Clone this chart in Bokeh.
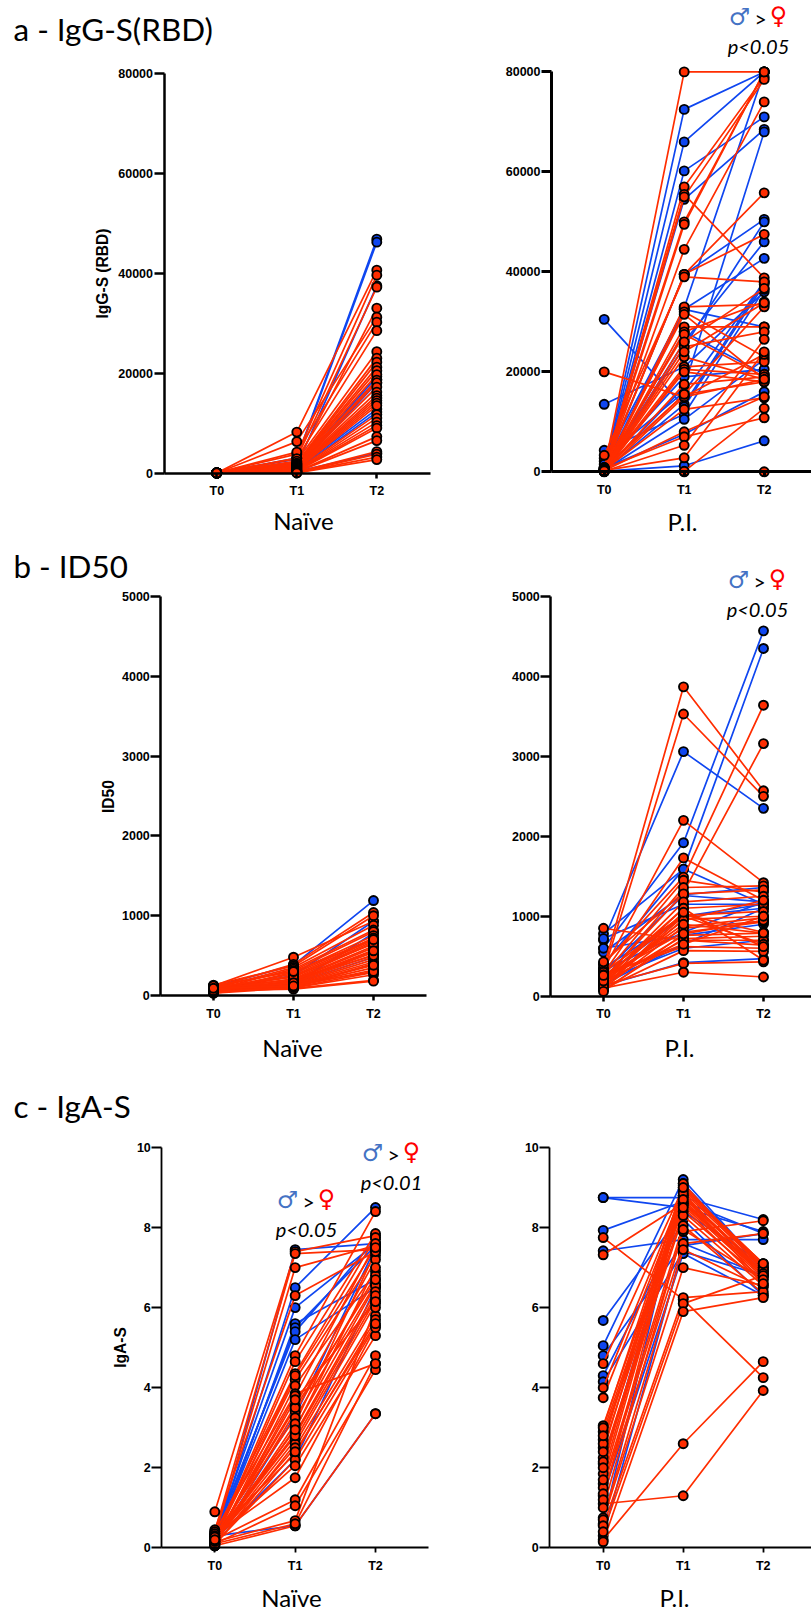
from bokeh.plotting import figure
from bokeh.layouts import column, row
from bokeh.models import Range1d, FixedTicker, Label, BasicTickFormatter
from bokeh.embed import file_html
from bokeh.resources import INLINE
import math

times = ["T0", "T1", "T2"]

# ---- a - IgG-S(RBD), Naive
a_n_m_t0 = [20, 40, 10, 30, 60, 20, 50, 10, 30]
a_n_m_t1 = [3000, 2800, 1500, 1200, 1000, 900, 800, 600, 300]
a_n_m_t2 = [46800, 46200, 37500, 19300, 18700, 18000, 12800, 12200, 4000]
a_n_f_t0 = [20, 50, 10, 80, 30, 60, 40, 20, 10, 70, 30, 50, 90, 20, 40, 10, 60, 30, 80, 20, 50, 40, 10, 30, 70, 20, 60, 40, 10, 50, 30, 20, 40]
a_n_f_t1 = [8200, 3800, 3000, 2200, 6300, 4200, 2900, 2400, 2000, 1900, 1800, 1700, 1600, 1500, 1400, 1300, 1200, 1100, 1000, 900, 800, 700, 600, 500, 450, 400, 350, 300, 250, 200, 150, 100, 50]
a_n_f_t2 = [40600, 39600, 37200, 33000, 31200, 30200, 28500, 24300, 23000, 22200, 21200, 20500, 19700, 18600, 18100, 17200, 16200, 15500, 15000, 14500, 14000, 13500, 11700, 11000, 10200, 9500, 9000, 7300, 6500, 4300, 3800, 3200, 2700]

# ---- a - IgG-S(RBD), P.I.
a_p_m_t0 = [300, 200, 150, 400, 100, 250, 500, 1000, 2100, 800, 600, 300, 30500, 13500, 4300, 350, 700, 150, 2700, 1500, 100]
a_p_m_t1 = [72500, 66000, 60200, 54500, 32800, 17000, 39500, 32500, 32500, 25000, 26000, 13500, 13000, 21000, 11500, 10500, 7500, 1200, 16000, 19000, 28000]
a_p_m_t2 = [80000, 80000, 71000, 68500, 80000, 68000, 50500, 42700, 29000, 50000, 46000, 38000, 37500, 36000, 36500, 22500, 16000, 6200, 38000, 20500, 19500]
a_p_f_t0 = [500, 300, 600, 200, 800, 100, 400, 700, 300, 3300, 200, 100, 900, 400, 300, 600, 100, 200, 500, 100, 300, 200, 800, 100, 20000, 400, 200, 600, 100, 300, 0, 100, 500, 300, 200]
a_p_f_t1 = [80000, 57000, 55500, 55000, 50000, 49500, 44500, 39500, 39500, 39000, 33000, 32000, 31500, 29000, 28000, 27500, 25000, 23000, 21000, 20500, 20000, 17500, 15500, 15000, 15000, 12500, 8000, 7000, 5300, 2800, 0, 100, 15500, 26000, 24000]
a_p_f_t2 = [80000, 79000, 38800, 78500, 80000, 80000, 74000, 55800, 47500, 38000, 33500, 23000, 18500, 29000, 34000, 19000, 28000, 18500, 22000, 19500, 18000, 19000, 18000, 23500, 18500, 14800, 15000, 10800, 26500, 24000, 0, 12700, 33000, 36700, 33800]

# ---- b - ID50, Naive
b_n_m_t0 = [110, 80, 60, 90]
b_n_m_t1 = [380, 250, 140, 150]
b_n_m_t2 = [1190, 930, 780, 480]
b_n_f_t0 = [120, 100, 130, 90, 70, 110, 60, 80, 50, 100, 70, 90, 40, 60, 80, 50, 110, 30, 70, 60, 40, 50, 90, 30, 70, 60, 40, 50, 80, 100, 120, 60, 90]
b_n_f_t1 = [480, 390, 370, 350, 330, 310, 290, 270, 250, 230, 210, 200, 190, 180, 170, 160, 150, 140, 130, 120, 115, 110, 100, 95, 90, 80, 130, 100, 200, 240, 300, 160, 120]
b_n_f_t2 = [930, 1040, 1000, 880, 820, 800, 750, 720, 700, 680, 660, 620, 600, 570, 540, 510, 480, 450, 420, 390, 350, 320, 290, 260, 190, 180, 300, 400, 500, 650, 700, 560, 380]

# ---- b - ID50, P.I.
b_p_m_t0 = [700, 600, 400, 780, 550, 300, 720, 350, 250, 150, 200, 130, 600, 320]
b_p_m_t1 = [3060, 1920, 1590, 1590, 1270, 1260, 1150, 1000, 1000, 650, 600, 420, 760, 800]
b_p_m_t2 = [2350, 4570, 4350, 1150, 1360, 1180, 1150, 1150, 1100, 1100, 700, 470, 900, 1180]
b_p_f_t0 = [350, 300, 330, 280, 400, 430, 260, 850, 200, 220, 180, 160, 250, 120, 100, 240, 300, 150, 80, 180, 130, 270, 90, 140, 100, 210, 170, 230, 110, 190, 60, 260]
b_p_f_t1 = [3870, 3530, 2200, 1730, 1490, 1300, 1450, 700, 1360, 1280, 1180, 1100, 1010, 960, 870, 800, 1020, 760, 720, 700, 1000, 620, 570, 410, 300, 1100, 950, 850, 1050, 900, 780, 650]
b_p_f_t2 = [2570, 2500, 1420, 1200, 3640, 3160, 1300, 640, 1380, 1330, 1250, 1150, 1060, 1000, 980, 930, 800, 790, 750, 700, 650, 600, 560, 430, 240, 450, 1200, 940, 620, 790, 950, 1000]

# ---- c - IgA-S, Naive
c_n_m_t0 = [0.2, 0.15, 0.3, 0.1, 0.25, 0.35, 0.18, 0.12, 0.3, 0.2]
c_n_m_t1 = [6.5, 7.45, 6.0, 5.6, 5.5, 5.4, 5.2, 3.3, 0.55, 2.2]
c_n_m_t2 = [8.5, 7.6, 7.6, 6.7, 7.55, 7.7, 6.5, 7.5, 3.35, 6.5]
c_n_f_t0 = [0.9, 0.4, 0.3, 0.45, 0.2, 0.15, 0.35, 0.25, 0.1, 0.4, 0.15, 0.2, 0.05, 0.3, 0.1, 0.25, 0.15, 0.05, 0.2, 0.35, 0.1, 0.25, 0.3, 0.2, 0.1, 0.15, 0.05, 0.1, 0.18, 0.12, 0.22, 0.08, 0.27, 0.16, 0.2]
c_n_f_t1 = [7.4, 7.35, 7.0, 6.3, 4.8, 4.65, 4.35, 4.2, 4.05, 3.85, 3.8, 3.55, 3.4, 3.25, 3.0, 2.85, 2.7, 2.6, 2.5, 2.35, 2.2, 2.05, 1.75, 1.2, 1.05, 0.68, 0.55, 0.6, 3.5, 3.1, 2.8, 2.4, 2.95, 3.7, 4.3]
c_n_f_t2 = [7.8, 7.45, 7.55, 7.4, 8.4, 7.85, 7.75, 7.3, 6.9, 4.6, 7.6, 7.2, 6.8, 6.6, 6.55, 6.4, 6.2, 6.1, 5.8, 5.7, 5.55, 5.3, 5.5, 4.8, 4.45, 6.0, 3.35, 4.6, 6.7, 7.4, 6.3, 5.6, 7.0, 6.15, 7.5]

# ---- c - IgA-S, P.I.
c_p_m_t0 = [8.75, 8.75, 7.93, 7.42, 5.68, 5.05, 4.8, 4.3, 4.15, 1.3, 0.3, 0.6, 2.1]
c_p_m_t1 = [8.75, 8.5, 8.65, 7.7, 8.4, 9.2, 7.6, 8.2, 7.4, 7.35, 7.55, 9.1, 8.8]
c_p_m_t2 = [8.2, 7.9, 7.85, 7.7, 7.1, 7.0, 6.8, 6.3, 6.8, 6.3, 7.85, 7.0, 6.9]
c_p_f_t0 = [7.75, 7.32, 4.6, 4.0, 3.75, 3.05, 2.9, 2.7, 2.5, 2.25, 2.15, 1.85, 1.6, 1.5, 1.35, 1.1, 0.75, 0.7, 0.55, 0.2, 0.4, 0.15, 2.0, 3.0, 2.6, 1.2, 1.7, 2.4, 1.0, 2.8]
c_p_f_t1 = [6.2, 8.6, 9.0, 8.9, 8.8, 8.75, 8.65, 8.6, 8.55, 8.4, 8.3, 8.8, 8.05, 7.9, 7.6, 1.3, 7.45, 7.0, 6.25, 2.6, 6.1, 5.9, 8.95, 9.05, 9.1, 8.85, 8.7, 9.0, 7.95, 8.5]
c_p_f_t2 = [4.25, 6.9, 7.1, 7.0, 6.95, 6.9, 6.85, 6.8, 6.75, 6.7, 6.55, 6.6, 6.35, 8.17, 7.85, 3.93, 6.5, 6.55, 6.4, 4.65, 6.8, 6.25, 7.05, 7.0, 6.95, 6.85, 6.8, 7.1, 6.7, 6.6]

BLUE = "#0F46F0"
RED = "#FF2D00"
MALE = "#4472C4"
FEMALE = "#FF0000"
TEXT_FONT = "Lato"
AXIS_FONT = "Liberation Sans"


def panel(fx, fy, fw, fh, axis_x, t0x, t2x, xend, ytop, y0, ymax, yticks, axw,
          male, female, ylabel=None, ylabel_pos=None, xname="", xname_pos=None,
          title=None, title_pos=None, marks=()):
    px2x = lambda px: (px - t0x) / (t2x - t0x) * 2
    px2y = lambda py: (y0 - py) / (y0 - ytop) * ymax
    L, T, R, B = fx, fy, fx + fw, fy + fh
    p = figure(width=fw, height=fh, output_backend="svg", toolbar_location=None,
               x_range=Range1d(px2x(L), px2x(R)), y_range=Range1d(px2y(B), px2y(T)),
               min_border_left=0, min_border_right=0, min_border_top=0, min_border_bottom=0)
    p.outline_line_color = None
    p.grid.visible = False
    for ax in (p.xaxis[0], p.yaxis[0]):
        ax.axis_line_color = "black"
        ax.major_tick_line_color = "black"
        ax.minor_tick_line_color = None
        ax.major_tick_in = 0
        ax.major_label_text_font = AXIS_FONT
        ax.major_label_text_font_style = "bold"
        ax.major_label_text_font_size = "12.5px"
        ax.major_label_text_color = "black"
        ax.axis_line_width = axw
        ax.major_tick_line_width = axw
    xa, ya = p.xaxis[0], p.yaxis[0]
    xa.ticker = FixedTicker(ticks=[0, 1, 2])
    xa.major_label_overrides = {i: t for i, t in enumerate(times)}
    xa.major_tick_out = 5
    xa.major_label_standoff = 6
    xa.fixed_location = 0
    xa.bounds = (px2x(axis_x), px2x(xend))
    ya.ticker = FixedTicker(ticks=yticks)
    ya.formatter = BasicTickFormatter(use_scientific=False)
    ya.major_tick_out = 10
    ya.major_label_standoff = 1
    ya.fixed_location = px2x(axis_x)
    ya.bounds = (0, ymax)

    for (t0, t1, t2), col in ((male, BLUE), (female, RED)):
        xs = [[0, 1, 2] for _ in t0]
        ys = [[a, b, c] for a, b, c in zip(t0, t1, t2)]
        p.multi_line(xs, ys, line_color=col, line_width=1.7)
        sx = [0] * len(t0) + [1] * len(t1) + [2] * len(t2)
        sy = list(t0) + list(t1) + list(t2)
        p.scatter(sx, sy, size=9, fill_color=col, line_color="black", line_width=1.9)

    def txt(s, px, py, size, font=TEXT_FONT, style="normal", color="black", align="center", angle=0):
        p.add_layout(Label(x=px2x(px), y=px2y(py),
                           text=s, text_font=font, text_font_style=style,
                           text_font_size=f"{size}px", text_color=color, text_align=align,
                           text_baseline="middle", angle=angle))

    if ylabel:
        txt(ylabel, ylabel_pos[0], ylabel_pos[1], 15.6, font=AXIS_FONT, style="bold", angle=math.pi / 2)
    txt(xname, xname_pos[0], xname_pos[1], 24)
    if title:
        txt(title, title_pos[0], title_pos[1], 31.4, align="left")
    for (cx, cy, ptext) in marks:
        txt("\u2642", cx - 19, cy, 24, font="DejaVu Sans", style="bold", color=MALE)
        txt(">", cx + 2, cy + 2, 21)
        txt("\u2640", cx + 20, cy - 1, 24, font="DejaVu Sans", style="bold", color=FEMALE)
        txt(ptext, cx, cy + 29, 20, style="italic")
    return p


ticks_a = [0, 20000, 40000, 60000, 80000]
ticks_b = [0, 1000, 2000, 3000, 4000, 5000]
ticks_c = [0, 2, 4, 6, 8, 10]

a1 = panel(0, 0, 440, 540, 163.5, 216.3, 376.3, 430, 72.7, 472.6, 80000, ticks_a, 2.5,
           (a_n_m_t0, a_n_m_t1, a_n_m_t2), (a_n_f_t0, a_n_f_t1, a_n_f_t2),
           "IgG-S (RBD)", (102, 273), "Na\u00efve", (303, 520), "a - IgG-S(RBD)", (13, 28))
a2 = panel(440, 0, 371, 540, 551, 603.7, 763.7, 811, 71.4, 471.3, 80000, ticks_a, 3,
           (a_p_m_t0, a_p_m_t1, a_p_m_t2), (a_p_f_t0, a_p_f_t1, a_p_f_t2),
           None, None, "P.I.", (682, 521), marks=[(758, 16, "p<0.05")])
b1 = panel(0, 540, 440, 545, 160.3, 213, 373, 426, 596, 995, 5000, ticks_b, 2.5,
           (b_n_m_t0, b_n_m_t1, b_n_m_t2), (b_n_f_t0, b_n_f_t1, b_n_f_t2),
           "ID50", (108, 796), "Na\u00efve", (292, 1047), "b - ID50", (13, 565))
b2 = panel(440, 540, 371, 545, 550.3, 603, 763, 811, 596, 995.7, 5000, ticks_b, 2.5,
           (b_p_m_t0, b_p_m_t1, b_p_m_t2), (b_p_f_t0, b_p_f_t1, b_p_f_t2),
           None, None, "P.I.", (679, 1047), marks=[(757, 579, "p<0.05")])
c1 = panel(0, 1085, 440, 527, 161.3, 214.3, 375, 428, 1147, 1547.3, 10, ticks_c, 1.8,
           (c_n_m_t0, c_n_m_t1, c_n_m_t2), (c_n_f_t0, c_n_f_t1, c_n_f_t2),
           "IgA-S", (120, 1347), "Na\u00efve", (291, 1597), "c - IgA-S", (13, 1105),
           marks=[(306, 1199, "p<0.05"), (391, 1152, "p<0.01")])
c2 = panel(440, 1085, 371, 527, 549.3, 602.7, 762.7, 811, 1147, 1547.3, 10, ticks_c, 1.8,
           (c_p_m_t0, c_p_m_t1, c_p_m_t2), (c_p_f_t0, c_p_f_t1, c_p_f_t2),
           None, None, "P.I.", (674, 1597))

page = column(row(a1, a2), row(b1, b2), row(c1, c2))
open("out.html", "w").write(file_html(page, INLINE))
